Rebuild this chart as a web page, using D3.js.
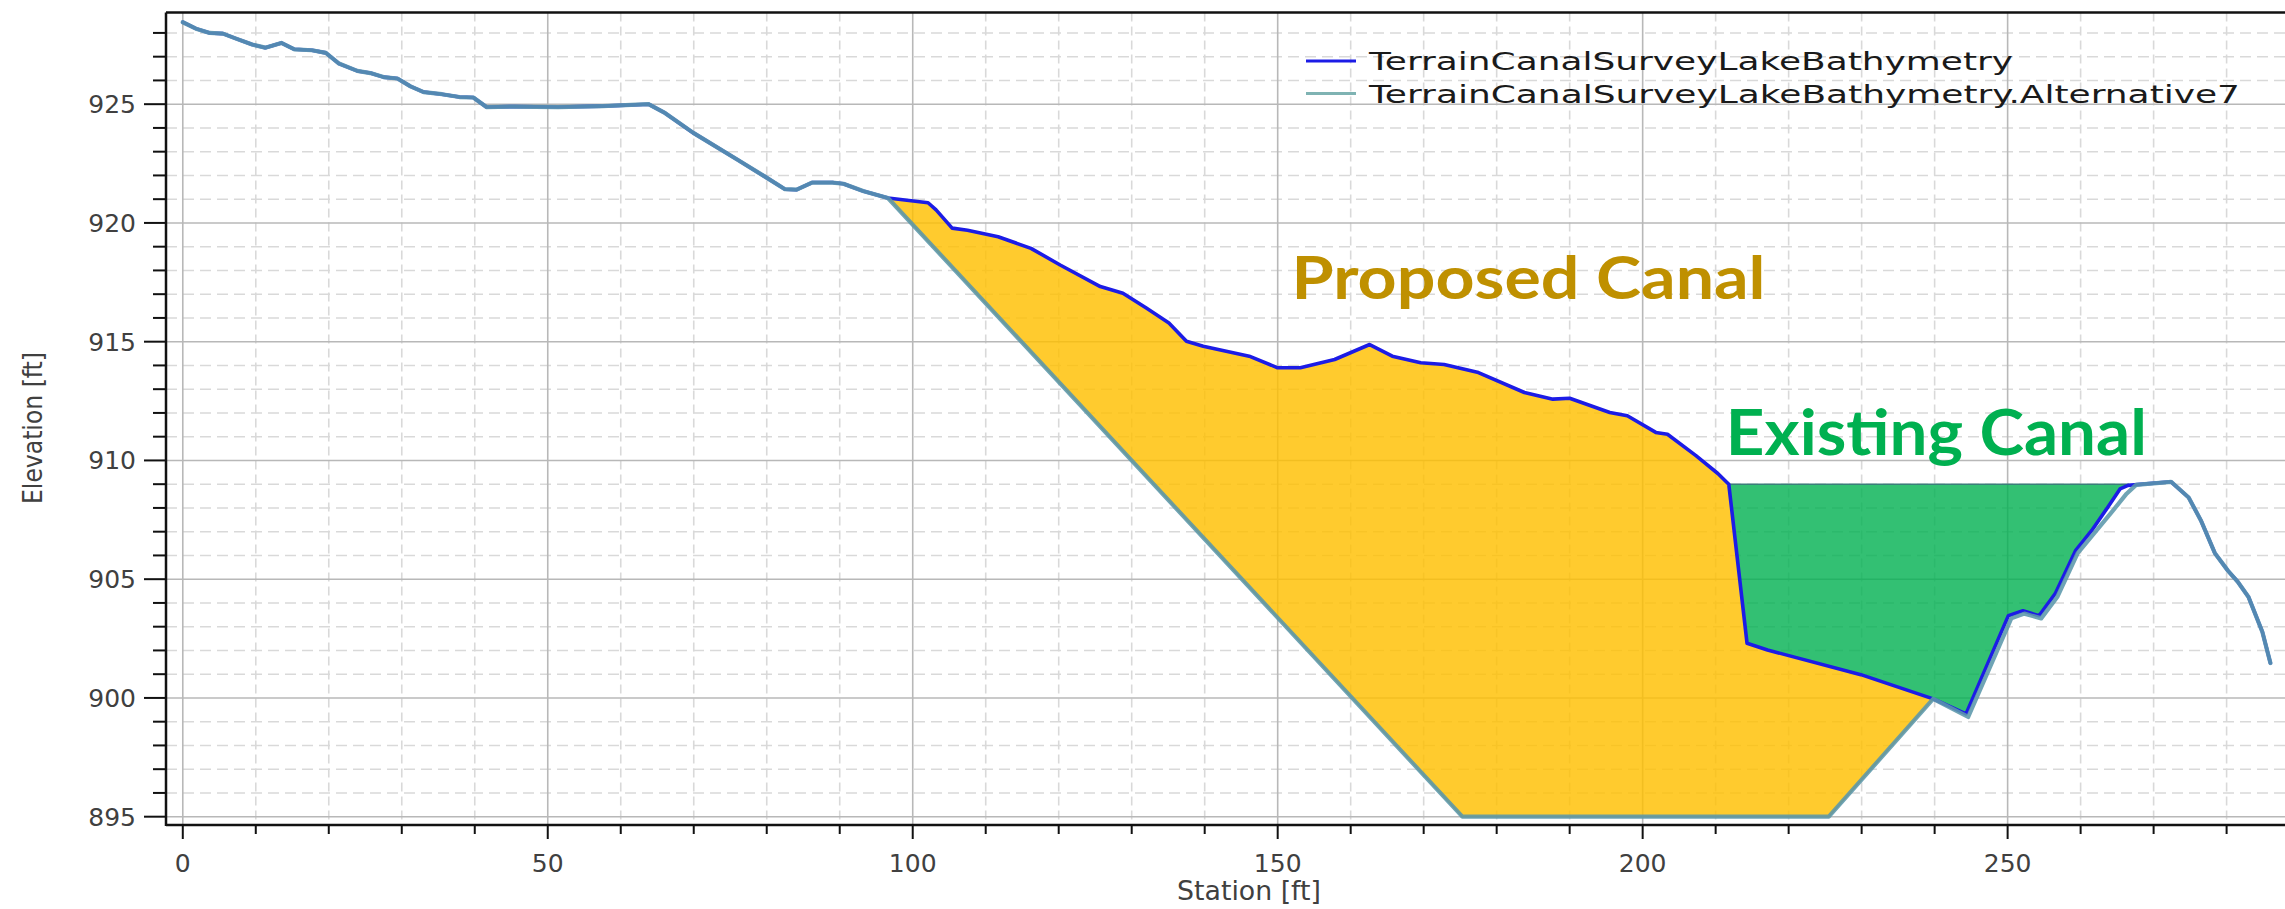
<!DOCTYPE html>
<html>
<head>
<meta charset="utf-8">
<script src="https://cdn.jsdelivr.net/npm/d3@7"></script>
<style>
  html, body { margin: 0; padding: 0; background: #ffffff; }
  svg { display: block; }
</style>
</head>
<body>
<svg id="chart" width="2285" height="909"></svg>
<script>
// ---------------- DATA ----------------
// Original terrain: TerrainCanalSurveyLakeBathymetry
const terrainStation = [0.0, 1.8, 3.7, 5.5, 7.3, 9.5, 11.3, 13.5, 15.3, 17.7, 19.6, 21.4, 23.9, 25.7, 27.5, 29.4,
  31.2, 33.0, 35.5, 37.9, 39.8, 41.6, 45.3, 51.4, 57.5, 63.8, 66.1, 70.0, 76.0, 79.7, 82.5, 84.1, 86.2, 89.0,
  90.5, 93.3, 96.6, 102.1, 103.2, 105.4, 107.5, 111.7, 116.2, 120.2, 125.7, 128.8, 132.0, 135.1, 137.5, 139.8,
  146.1, 150.0, 153.1, 157.8, 162.6, 165.7, 169.6, 172.8, 177.5, 183.8, 187.7, 190.0, 195.5, 197.9, 201.8,
  203.4, 207.3, 210.3, 211.8, 214.3, 217.1, 229.9, 239.8, 244.3, 250.1, 252.1, 254.3, 256.5, 259.3, 261.5,
  263.7, 265.4, 266.5, 272.4, 274.8, 276.5, 278.4, 280.2, 281.5, 283.0, 284.9, 286.0];
const terrainElev = [928.45, 928.18, 928.0, 927.97, 927.76, 927.51, 927.38, 927.58, 927.31, 927.27, 927.16,
  926.71, 926.40, 926.31, 926.14, 926.08, 925.75, 925.51, 925.42, 925.30, 925.28, 924.88, 924.90, 924.88,
  924.92, 925.0, 924.62, 923.78, 922.66, 921.96, 921.42, 921.40, 921.70, 921.70, 921.65, 921.33, 921.05,
  920.85, 920.55, 919.78, 919.69, 919.42, 918.93, 918.23, 917.32, 917.04, 916.42, 915.79, 915.02, 914.81,
  914.39, 913.90, 913.90, 914.25, 914.88, 914.39, 914.11, 914.04, 913.70, 912.86, 912.58, 912.62, 912.02,
  911.88, 911.18, 911.10, 910.20, 909.45, 909.0, 902.3, 902.02, 900.98, 899.96, 899.33, 903.46, 903.67,
  903.46, 904.38, 906.2, 907.04, 908.02, 908.8, 908.95, 909.1, 908.44, 907.46, 906.09, 905.35, 904.9,
  904.25, 902.78, 901.47];

// Alternative 7 terrain: TerrainCanalSurveyLakeBathymetry.Alternative7
const alt7Station = [0.0, 1.8, 3.7, 5.5, 7.3, 9.5, 11.3, 13.5, 15.3, 17.7, 19.6, 21.4, 23.9, 25.7, 27.5, 29.4,
  31.2, 33.0, 35.5, 37.9, 39.8, 41.6, 45.3, 51.4, 57.5, 63.8, 66.1, 70.0, 76.0, 79.7, 82.5, 84.1, 86.2, 89.0,
  90.5, 93.3, 96.6, 175.3, 225.5, 239.8, 244.6, 250.5, 252.3, 254.6, 256.8, 259.6, 261.9, 264.2, 266.3,
  267.6, 272.4, 274.8, 276.5, 278.4, 280.2, 281.5, 283.0, 284.9, 286.0];
const alt7Elev = [928.45, 928.18, 928.0, 927.97, 927.76, 927.51, 927.38, 927.58, 927.31, 927.27, 927.16,
  926.71, 926.40, 926.31, 926.14, 926.08, 925.75, 925.51, 925.42, 925.30, 925.28, 924.88, 924.90, 924.88,
  924.92, 925.0, 924.62, 923.78, 922.66, 921.96, 921.42, 921.40, 921.70, 921.70, 921.65, 921.33, 921.05,
  895.0, 895.0, 899.96, 899.2, 903.35, 903.55, 903.35, 904.25, 906.1, 906.95, 907.8, 908.6, 908.97,
  909.1, 908.44, 907.46, 906.09, 905.35, 904.9, 904.25, 902.78, 901.47];

// Existing canal water surface
const existingCanalTop = 909.0;
const existingCanalRange = [211.8, 266.5];
// Proposed canal range (where alternative departs from / rejoins the terrain)
const proposedRange = [96.6, 239.8];

const seriesNames = ["TerrainCanalSurveyLakeBathymetry", "TerrainCanalSurveyLakeBathymetry.Alternative7"];
const xMajorTicks = [0, 50, 100, 150, 200, 250];
const yMajorTicks = [895, 900, 905, 910, 915, 920, 925];
const annotationText = ["Proposed Canal", "Existing Canal"];
const annotationStation = [151.9, 211.4];
const annotationElev = [916.79, 910.23];
const xAxisTitle = "Station [ft]";
const yAxisTitle = "Elevation [ft]";

// ---------------- LAYOUT ----------------
const svg = d3.select("#chart");
const W = 2285, H = 909;
const plot = { left: 166, top: 12.5, right: 2285, bottom: 825 };

const x = d3.scaleLinear().domain([-2.3, 288]).range([plot.left, plot.right]);
const y = d3.scaleLinear().domain([894.65, 928.86]).range([plot.bottom, plot.top]);

svg.append("rect").attr("width", W).attr("height", H).attr("fill", "#ffffff");

const terrain = terrainStation.map((s, i) => [s, terrainElev[i]]);
const alt7 = alt7Station.map((s, i) => [s, alt7Elev[i]]);

// ---------------- GRID ----------------
const xMinor = d3.range(0, 290, 10).filter(v => !xMajorTicks.includes(v));
const yMinor = d3.range(895, 929, 1).filter(v => !yMajorTicks.includes(v));
const grid = svg.append("g");

grid.selectAll("line.ymin").data(yMinor).join("line")
  .attr("x1", plot.left).attr("x2", plot.right)
  .attr("y1", d => y(d)).attr("y2", d => y(d))
  .attr("stroke", "#d9d9d9").attr("stroke-width", 1.6).attr("stroke-dasharray", "11,6");
grid.selectAll("line.xmin").data(xMinor).join("line")
  .attr("x1", d => x(d)).attr("x2", d => x(d))
  .attr("y1", plot.top).attr("y2", plot.bottom)
  .attr("stroke", "#d9d9d9").attr("stroke-width", 1.6).attr("stroke-dasharray", "9,5");
grid.selectAll("line.ymaj").data(yMajorTicks).join("line")
  .attr("x1", plot.left).attr("x2", plot.right)
  .attr("y1", d => y(d)).attr("y2", d => y(d))
  .attr("stroke", "#b8b8b8").attr("stroke-width", 1.6);
grid.selectAll("line.xmaj").data(xMajorTicks).join("line")
  .attr("x1", d => x(d)).attr("x2", d => x(d))
  .attr("y1", plot.top).attr("y2", plot.bottom)
  .attr("stroke", "#b8b8b8").attr("stroke-width", 1.6);

// ---------------- FILLS ----------------
const lineGen = d3.line().x(d => x(d[0])).y(d => y(d[1]));

// Proposed canal: between original terrain (top) and alternative cut (bottom)
const propTop = terrain.filter(d => d[0] >= proposedRange[0] && d[0] <= proposedRange[1]);
const propBottom = alt7.filter(d => d[0] >= proposedRange[0] && d[0] <= proposedRange[1]).slice().reverse();
svg.append("path")
  .attr("d", lineGen(propTop.concat(propBottom)) + "Z")
  .attr("fill", "#FFC000").attr("fill-opacity", 0.82)
  .attr("stroke", "#C9A23A").attr("stroke-width", 1.5);

// Existing canal: between water surface and original terrain
const exBottom = terrain.filter(d => d[0] >= existingCanalRange[0] && d[0] <= existingCanalRange[1]);
const exPoly = exBottom.concat([[existingCanalRange[1], existingCanalTop], [existingCanalRange[0], existingCanalTop]]);
svg.append("path")
  .attr("d", lineGen(exPoly) + "Z")
  .attr("fill", "#00B050").attr("fill-opacity", 0.8)
  .attr("stroke", "#3a7f7a").attr("stroke-width", 1.5);

// ---------------- LINES ----------------
svg.append("path").attr("d", lineGen(terrain))
  .attr("fill", "none").attr("stroke", "#1c1ce6").attr("stroke-width", 3.6)
  .attr("stroke-linejoin", "round").attr("stroke-linecap", "round");
svg.append("path").attr("d", lineGen(alt7))
  .attr("fill", "none").attr("stroke", "#5b97ab").attr("stroke-width", 4.2)
  .attr("stroke-opacity", 0.88).attr("stroke-linejoin", "round").attr("stroke-linecap", "round");

// ---------------- AXES ----------------
const axisColor = "#111";
svg.append("line").attr("x1", plot.left).attr("x2", plot.right).attr("y1", plot.top).attr("y2", plot.top)
  .attr("stroke", axisColor).attr("stroke-width", 2.5);
svg.append("line").attr("x1", plot.left).attr("x2", plot.left).attr("y1", plot.top).attr("y2", plot.bottom + 1)
  .attr("stroke", axisColor).attr("stroke-width", 2.5);
svg.append("line").attr("x1", plot.left).attr("x2", plot.right).attr("y1", plot.bottom).attr("y2", plot.bottom)
  .attr("stroke", axisColor).attr("stroke-width", 2.5);

// y ticks
const ticks = svg.append("g");
ticks.selectAll("line.yt").data(d3.range(895, 929, 1)).join("line")
  .attr("x1", d => yMajorTicks.includes(d) ? plot.left - 22 : plot.left - 13).attr("x2", plot.left)
  .attr("y1", d => y(d)).attr("y2", d => y(d))
  .attr("stroke", axisColor).attr("stroke-width", 2);
ticks.selectAll("text.yl").data(yMajorTicks).join("text")
  .attr("x", plot.left - 30).attr("y", d => y(d)).attr("dy", "0.36em")
  .attr("text-anchor", "end").attr("fill", "#404040")
  .attr("font-family", "DejaVu Sans, sans-serif").attr("font-size", 25)
  .text(d => d);

// x ticks
ticks.selectAll("line.xt").data(d3.range(0, 290, 10)).join("line")
  .attr("x1", d => x(d)).attr("x2", d => x(d))
  .attr("y1", plot.bottom).attr("y2", d => xMajorTicks.includes(d) ? plot.bottom + 14 : plot.bottom + 9)
  .attr("stroke", axisColor).attr("stroke-width", 2);
ticks.selectAll("text.xl").data(xMajorTicks).join("text")
  .attr("x", d => x(d)).attr("y", plot.bottom + 47)
  .attr("text-anchor", "middle").attr("fill", "#404040")
  .attr("font-family", "DejaVu Sans, sans-serif").attr("font-size", 25)
  .text(d => d);

// axis titles
svg.append("text")
  .attr("x", 1249).attr("y", 900)
  .attr("text-anchor", "middle").attr("fill", "#404040")
  .attr("font-family", "DejaVu Sans, sans-serif").attr("font-size", 27)
  .attr("textLength", 144).attr("lengthAdjust", "spacingAndGlyphs")
  .text(xAxisTitle);
svg.append("text")
  .attr("transform", "translate(42,428) rotate(-90)")
  .attr("text-anchor", "middle").attr("fill", "#404040")
  .attr("font-family", "DejaVu Sans Condensed, Liberation Sans Narrow, sans-serif").attr("font-size", 26)
  .attr("textLength", 152).attr("lengthAdjust", "spacingAndGlyphs")
  .text(yAxisTitle);

// ---------------- LEGEND ----------------
const legendColors = ["#1c1ce6", "#7fb3b3"];
const legendWidths = [644, 871];
const legend = svg.append("g").attr("transform", "translate(1306,61)");
seriesNames.forEach((name, i) => {
  const g = legend.append("g").attr("transform", `translate(0,${i * 32.5})`);
  g.append("line").attr("x1", 0).attr("x2", 50).attr("y1", 0).attr("y2", 0)
    .attr("stroke", legendColors[i]).attr("stroke-width", 3);
  g.append("text").attr("x", 63).attr("y", 0).attr("dy", "0.36em")
    .attr("fill", "#1a1a1a")
    .attr("font-family", "DejaVu Sans, sans-serif").attr("font-size", 25)
    .attr("textLength", legendWidths[i]).attr("lengthAdjust", "spacingAndGlyphs")
    .text(name);
});

// ---------------- ANNOTATIONS ----------------
const annColors = ["#BF9000", "#00B050"];
const annWidths = [474, 421];
const annSizes = [60, 64];
annotationText.forEach((t, i) => {
  svg.append("text")
    .attr("x", x(annotationStation[i])).attr("y", y(annotationElev[i]))
    .attr("fill", annColors[i])
    .attr("font-family", "Lato, Open Sans, sans-serif").attr("font-weight", "bold")
    .attr("font-size", annSizes[i])
    .attr("textLength", annWidths[i]).attr("lengthAdjust", "spacingAndGlyphs")
    .text(t);
});
</script>
</body>
</html>
